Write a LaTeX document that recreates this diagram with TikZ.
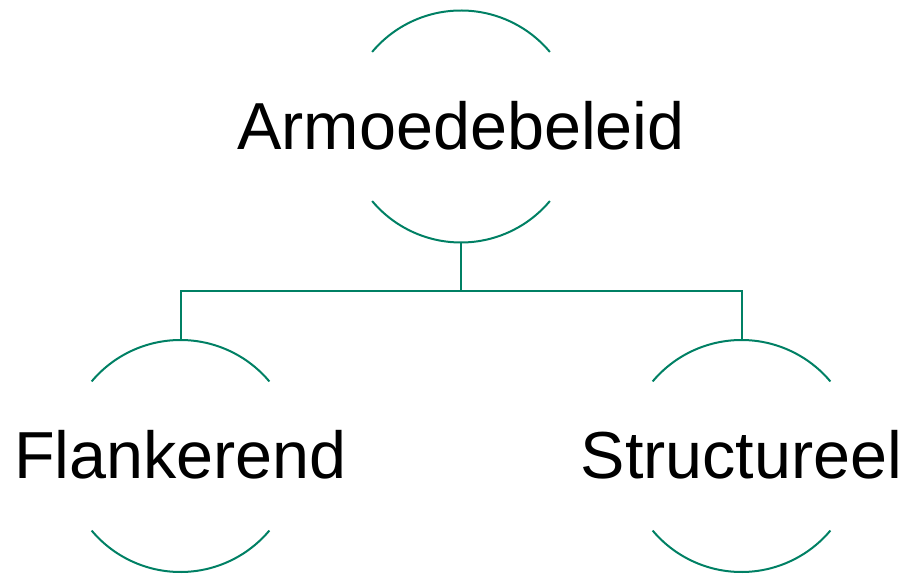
\documentclass[tikz,border=0pt]{standalone}
\usepackage{fontspec}
\setmainfont{Liberation Sans}
\definecolor{tealline}{RGB}{0,128,100}
\begin{document}
\begin{tikzpicture}[x=1pt,y=1pt,
  ring/.style={circle, minimum size=232pt, inner sep=0pt, outer sep=0pt,
    font=\fontsize{66.5}{80}\selectfont},
  arcline/.style={draw=tealline, line width=2pt},
  link/.style={draw=tealline, line width=2pt}]
\useasboundingbox (0,0) rectangle (907,576);
\node[ring] (top) at (461,449.5) {\raisebox{3pt}{\makebox[0pt]{Armoedebeleid}}};
\node[ring] (left) at (180.5,120) {\raisebox{3pt}{\makebox[0pt]{Flankerend}}};
\node[ring] (right) at (741.5,120) {\raisebox{3pt}{\makebox[0pt]{Structureel}}};
\foreach \n in {top,left,right}{
  \draw[arcline] (\n.140) arc[start angle=140, end angle=40, radius=116pt];
  \draw[arcline] (\n.-140) arc[start angle=-140, end angle=-40, radius=116pt];
}
\draw[link] (top.south) -- ++(0,-49) -| (left.north);
\draw[link] (top.south) -- ++(0,-49) -| (right.north);
\end{tikzpicture}
\end{document}
